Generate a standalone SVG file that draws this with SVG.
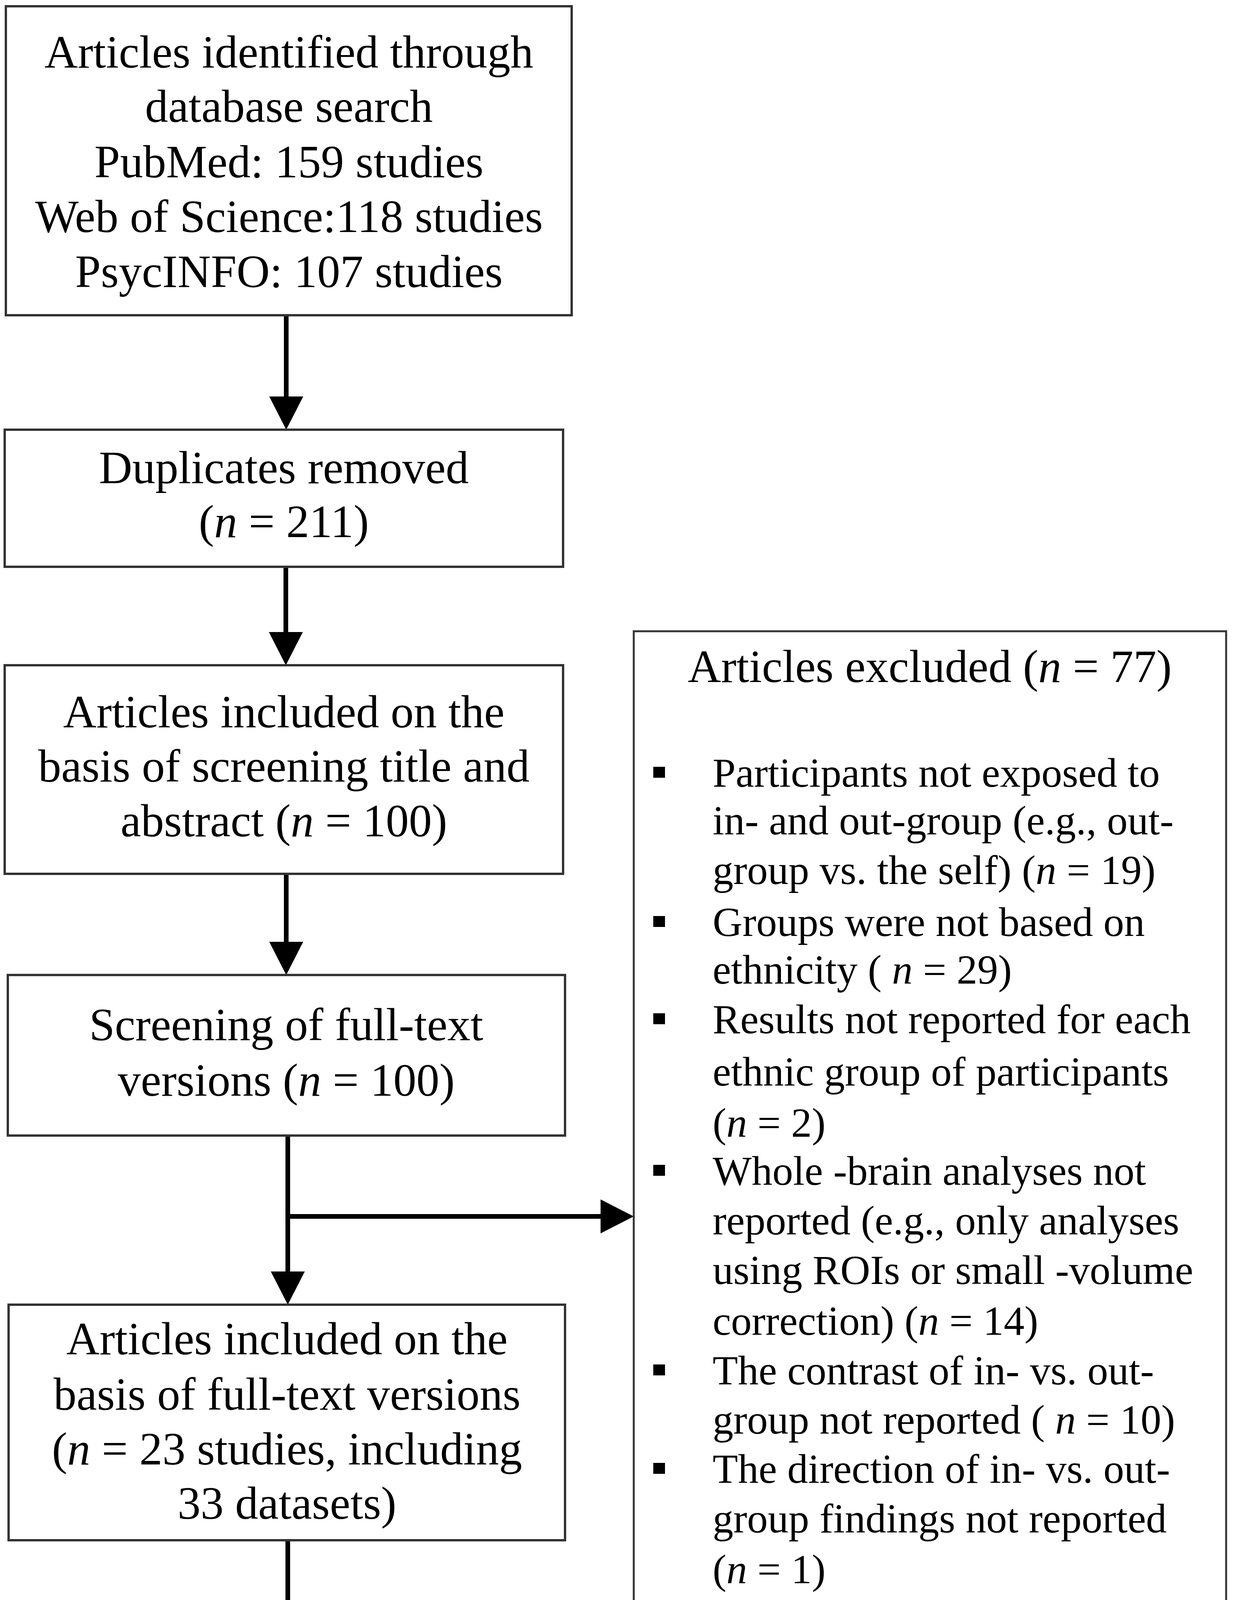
<svg xmlns="http://www.w3.org/2000/svg" width="3173" height="5677" viewBox="0 0 3173 5677">
<style>
.box{fill:#ffffff;stroke:#333333;stroke-width:6}
.rbox{fill:#ffffff;stroke:#333333;stroke-width:5}
.t{font-family:"Liberation Serif","Times New Roman",serif;font-size:118px;fill:#000;text-anchor:middle}
.b{font-family:"Liberation Serif","Times New Roman",serif;font-size:106px;fill:#000}
.i{font-style:italic}
.conn{fill:none;stroke:#000;stroke-width:12}
.bul{fill:#000}
</style>
<defs>
<marker id="ah" markerUnits="userSpaceOnUse" markerWidth="90" markerHeight="90" viewBox="0 -45 90 90" refX="0" refY="0" orient="auto" overflow="visible">
<path d="M0,-43.5 L85,0 L0,43.5 Z" fill="#000"/>
</marker>
</defs>
<rect width="3173" height="5677" fill="#ffffff"/>
<g id="connectors">
<path class="conn" d="M733,807 V1015" marker-end="url(#ah)"/>
<path class="conn" d="M732,1451 V1618" marker-end="url(#ah)"/>
<path class="conn" d="M733,2237 V2411" marker-end="url(#ah)"/>
<path class="conn" d="M737,2907 V3255" marker-end="url(#ah)"/>
<path class="conn" d="M731,3114 H1538" marker-end="url(#ah)"/>
<path class="conn" d="M737,3943 V4106" marker-end="url(#ah)"/>
<path class="conn" d="M737,4806 V4971" marker-end="url(#ah)"/>
</g>
<g id="identified">
<rect class="box" x="15" y="16" width="1449" height="791"/>
<text class="t" x="740" y="173">Articles identified through</text>
<text class="t" x="740" y="312">database search</text>
<text class="t" x="740" y="454">PubMed: 159 studies</text>
<text class="t" x="740" y="594">Web of Science:118 studies</text>
<text class="t" x="740" y="735">PsycINFO: 107 studies</text>
</g>
<g id="duplicates">
<rect class="box" x="12" y="1100" width="1430" height="351"/>
<text class="t" x="727" y="1237">Duplicates removed</text>
<text class="t" x="727" y="1375">(<tspan class="i">n</tspan> = 211)</text>
</g>
<g id="screened-title">
<rect class="box" x="12" y="1703" width="1430" height="534"/>
<text class="t" x="727" y="1862">Articles included on the</text>
<text class="t" x="727" y="2001">basis of screening title and</text>
<text class="t" x="727" y="2141">abstract (<tspan class="i">n</tspan> = 100)</text>
</g>
<g id="fulltext-screening">
<rect class="box" x="20" y="2496" width="1427" height="411"/>
<text class="t" x="733" y="2663">Screening of full-text</text>
<text class="t" x="733" y="2805">versions (<tspan class="i">n</tspan> = 100)</text>
</g>
<g id="fulltext-included">
<rect class="box" x="22" y="3340" width="1425" height="603"/>
<text class="t" x="735" y="3467">Articles included on the</text>
<text class="t" x="735" y="3609">basis of full-text versions</text>
<text class="t" x="735" y="3749">(<tspan class="i">n</tspan> = 23 studies, including</text>
<text class="t" x="735" y="3888">33 datasets)</text>
</g>
<g id="reference-lists">
<rect class="box" x="20" y="4191" width="1442" height="615"/>
<text class="t" x="741" y="4319">Screening reference lists of</text>
<text class="t" x="741" y="4461">reviews resulted in adding</text>
<text class="t" x="741" y="4602">15 eligible studies (with 17</text>
<text class="t" x="741" y="4744">datasets)</text>
</g>
<g id="synthesis">
<rect class="box" x="12" y="5056" width="1437" height="598"/>
<text class="t" x="731" y="5175">Studies included in the</text>
<text class="t" x="731" y="5316">quantitative synthesis</text>
<text class="t" x="731" y="5456">(<tspan class="i">n</tspan> = 38 studies, including</text>
<text class="t" x="731" y="5600">50 datasets)</text>
</g>
<g id="excluded">
<rect class="rbox" x="1623" y="1616" width="1517" height="3021"/>
<text class="t" x="2381" y="1746">Articles excluded (<tspan class="i">n</tspan> = 77)</text>
<rect class="bul" x="1673" y="1963" width="30" height="28"/>
<rect class="bul" x="1673" y="2345" width="30" height="28"/>
<rect class="bul" x="1673" y="2594" width="30" height="28"/>
<rect class="bul" x="1673" y="2982" width="30" height="28"/>
<rect class="bul" x="1673" y="3493" width="30" height="28"/>
<rect class="bul" x="1673" y="3745" width="30" height="28"/>
<rect class="bul" x="1673" y="4130" width="30" height="28"/>
<rect class="bul" x="1673" y="4257" width="30" height="28"/>
<text class="b" x="1825" y="2014">Participants  not exposed to</text>
<text class="b" x="1825" y="2136">in- and out-group (e.g., out-</text>
<text class="b" x="1825" y="2263">group vs. the self) (<tspan class="i">n</tspan> = 19)</text>
<text class="b" x="1825" y="2396">Groups were not based on</text>
<text class="b" x="1825" y="2518">ethnicity ( <tspan class="i">n</tspan> = 29)</text>
<text class="b" x="1825" y="2645">Results not reported for each</text>
<text class="b" x="1825" y="2779">ethnic group of participants</text>
<text class="b" x="1825" y="2910">(<tspan class="i">n</tspan> = 2)</text>
<text class="b" x="1825" y="3033">Whole -brain analyses not</text>
<text class="b" x="1825" y="3160">reported (e.g., only analyses</text>
<text class="b" x="1825" y="3287">using ROIs or small -volume</text>
<text class="b" x="1825" y="3417">correction) (<tspan class="i">n</tspan> = 14)</text>
<text class="b" x="1825" y="3544">The contrast of in- vs. out-</text>
<text class="b" x="1825" y="3670">group not reported ( <tspan class="i">n</tspan> = 10)</text>
<text class="b" x="1825" y="3796">The direction of  in- vs. out-</text>
<text class="b" x="1825" y="3923">group findings not reported</text>
<text class="b" x="1825" y="4053">(<tspan class="i">n</tspan> = 1)</text>
<text class="b" x="1825" y="4181">Sample size &lt; 10 ( <tspan class="i">n</tspan> = 1)</text>
<text class="b" x="1825" y="4308">Results of a same task within</text>
<text class="b" x="1825" y="4435">a same dataset were reported</text>
<text class="b" x="1825" y="4563">in other paper ( <tspan class="i">n</tspan> = 1)</text>
</g>
</svg>
